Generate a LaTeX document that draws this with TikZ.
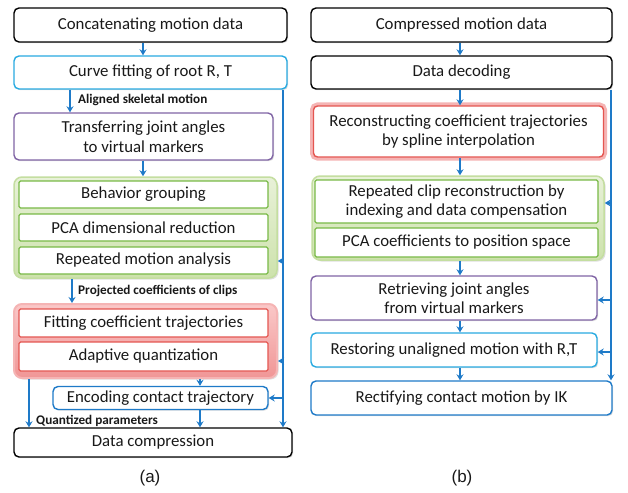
\documentclass[tikz,border=0pt]{standalone}
\usepackage{fontspec}
\setmainfont{Carlito}
\newfontfamily\capfont{Liberation Sans}
\usetikzlibrary{shadows,arrows.meta}

\definecolor{ablue}{RGB}{30,122,200}
\definecolor{cyanc}{RGB}{40,170,225}
\definecolor{purplec}{RGB}{128,100,165}
\definecolor{greenc}{RGB}{120,185,70}
\definecolor{greenhi}{RGB}{232,241,216}
\definecolor{greenlo}{RGB}{205,226,172}
\definecolor{greenedge}{RGB}{196,222,160}
\definecolor{redc}{RGB}{228,85,80}
\definecolor{redhi}{RGB}{250,200,200}
\definecolor{redlo}{RGB}{240,150,150}
\definecolor{rededge}{RGB}{245,180,180}
\definecolor{txt}{RGB}{25,25,25}

\begin{document}
\begin{tikzpicture}[x=1pt,y=-1pt,
  box/.style={rounded corners=5pt, line width=1.4pt, fill=white, align=center,
    inner sep=0pt, text=txt, font=\fontsize{16.8}{19.5}\selectfont,
    drop shadow={shadow xshift=1.2pt, shadow yshift=-1.2pt, opacity=0.25}},
  blackbox/.style={box, draw=black},
  cyanbox/.style={box, draw=cyanc},
  purplebox/.style={box, draw=purplec},
  bluebox/.style={box, draw=ablue},
  inbox/.style={rounded corners=1.5pt, line width=1.3pt, fill=white, align=center,
    inner sep=0pt, text=txt, font=\fontsize{16.8}{19.5}\selectfont},
  greenin/.style={inbox, draw=greenc},
  redin/.style={inbox, draw=redc},
  greengroup/.style={rounded corners=8pt, line width=1.5pt, draw=greenedge,
    top color=greenhi, bottom color=greenlo,
    drop shadow={shadow xshift=1.5pt, shadow yshift=-1.5pt, opacity=0.25}},
  redgroup/.style={rounded corners=8pt, line width=2pt, draw=rededge,
    top color=redhi, bottom color=redlo,
    drop shadow={shadow xshift=1.5pt, shadow yshift=-1.5pt, opacity=0.25}},
  redglow/.style={inbox, rounded corners=4pt, draw=redc, line width=1.4pt,
    preaction={draw=rededge, line width=7pt}},
  arr/.style={ablue, line width=1.5pt, -{Stealth[length=6pt,width=7pt,inset=2pt]}},
  lab/.style={anchor=west, inner sep=0pt, text=txt,
    font=\bfseries\fontsize{13.2}{14}\selectfont},
  captext/.style={inner sep=0pt, text=txt, font=\capfont\fontsize{17}{20}\selectfont}
]
\useasboundingbox[fill=white] (0,0) rectangle (628,492);

% ---------------- encoder (a) ----------------
\node[blackbox, minimum width=273pt, minimum height=34pt] (concat) at (150.5,25) {Concatenating motion data};
\node[cyanbox, minimum width=273pt, minimum height=33pt] (curve) at (150.5,72.5) {Curve fitting of root R, T};
\node[purplebox, minimum width=259pt, minimum height=47pt] (transfer) at (143.5,136.5) {Transferring joint angles\\to virtual markers};

\node[greengroup, minimum width=263pt, minimum height=101pt] (G1) at (145.5,227.5) {};
\node[greenin, minimum width=249pt, minimum height=27pt] (behav) at (143.5,194.5) {Behavior grouping};
\node[greenin, minimum width=249pt, minimum height=27pt] (pcadim) at (143.5,227.5) {PCA dimensional reduction};
\node[greenin, minimum width=249pt, minimum height=27pt] (repmot) at (143.5,260.5) {Repeated motion analysis};

\node[redgroup, minimum width=263pt, minimum height=74pt] (R1) at (145.5,341) {};
\node[redin, minimum width=249pt, minimum height=28pt] (fitcoef) at (143.5,323) {Fitting coefficient trajectories};
\node[redin, minimum width=249pt, minimum height=29pt] (adapt) at (143.5,356.5) {Adaptive quantization};

\node[bluebox, minimum width=215pt, minimum height=23pt] (encode) at (160.5,398) {Encoding contact trajectory};
\node[blackbox, minimum width=278pt, minimum height=29pt] (datacomp) at (153,442.5) {Data compression};

\node[captext] (capa) at (150,478) {(a)};

% column positions of the connectors
\coordinate (xa) at (143,0);
\coordinate (xal) at (70,0);
\coordinate (xpr) at (72,0);
\coordinate (xq) at (29,0);
\coordinate (xe) at (200,0);
\coordinate (xr) at (283,0);

\draw[arr] (concat.south -| xa) -- (curve.north -| xa);
\draw[arr] (curve.south -| xal) -- (transfer.north -| xal);
\node[lab] (lal) at (78,100) {Aligned skeletal motion};
\draw[arr] (transfer.south -| xa) -- (G1.north -| xa);
\draw[arr] (G1.south -| xpr) -- (R1.north -| xpr);
\node[lab] (lpr) at (78,291) {Projected coefficients of clips};
\draw[arr] (R1.south -| xe) -- (encode.north -| xe);
\draw[arr] (R1.south -| xq) -- (datacomp.north -| xq);
\node[lab] (lq) at (36,421) {Quantized parameters};
\draw[arr] (encode.south -| xe) -- (datacomp.north -| xe);

% side channel carrying the root trajectory
\draw[arr] (curve.south -| xr) -- (datacomp.north -| xr);
\coordinate (ba1) at (283,261);
\coordinate (ba2) at (283,361);
\coordinate (ba3) at (283,398);
\draw[arr] (ba1) -- (G1.east |- ba1);
\draw[arr] (ba2) -- (R1.east |- ba2);
\draw[arr] (ba3) -- (encode.east |- ba3);

% ---------------- decoder (b) ----------------
\node[blackbox, minimum width=301pt, minimum height=34pt] (cmpdata) at (461.5,25) {Compressed motion data};
\node[blackbox, minimum width=301pt, minimum height=33pt] (decode) at (461.5,72.5) {Data decoding};
\node[redglow, minimum width=290pt, minimum height=51pt] (recon) at (458.5,131.5) {Reconstructing coefficient trajectories\\by spline interpolation};

\node[greengroup, minimum width=292pt, minimum height=84pt] (G2) at (458,218) {};
\node[greenin, minimum width=283pt, minimum height=43pt] (repclip) at (456.5,201.5) {Repeated clip reconstruction by\\indexing and data compensation};
\node[greenin, minimum width=283pt, minimum height=29pt] (pcacoef) at (456.5,242.5) {PCA coefficients to position space};

\node[purplebox, minimum width=286pt, minimum height=44pt] (retrieve) at (454,298) {Retrieving joint angles\\from virtual markers};
\node[cyanbox, minimum width=286pt, minimum height=34pt] (restore) at (454,350) {Restoring unaligned motion with R,T};
\node[bluebox, minimum width=301pt, minimum height=34pt] (rectify) at (461.5,398) {Rectifying contact motion by IK};

\node[captext] (capb) at (462,478) {(b)};

\coordinate (xb) at (460,0);
\coordinate (xrr) at (611,0);

\draw[arr] (cmpdata.south -| xb) -- (decode.north -| xb);
\draw[arr] (decode.south -| xb) -- (recon.north -| xb);
\draw[arr] (recon.south -| xb) -- (G2.north -| xb);
\draw[arr] (G2.south -| xb) -- (retrieve.north -| xb);
\draw[arr] (retrieve.south -| xb) -- (restore.north -| xb);
\draw[arr] (restore.south -| xb) -- (rectify.north -| xb);

% side channel from the decoder
\draw[arr] (decode.south -| xrr) -- (rectify.north -| xrr);
\coordinate (bb1) at (611,203);
\coordinate (bb2) at (611,300);
\coordinate (bb3) at (611,352);
\draw[arr] (bb1) -- (G2.east |- bb1);
\draw[arr] (bb2) -- (retrieve.east |- bb2);
\draw[arr] (bb3) -- (restore.east |- bb3);
\end{tikzpicture}
\end{document}
